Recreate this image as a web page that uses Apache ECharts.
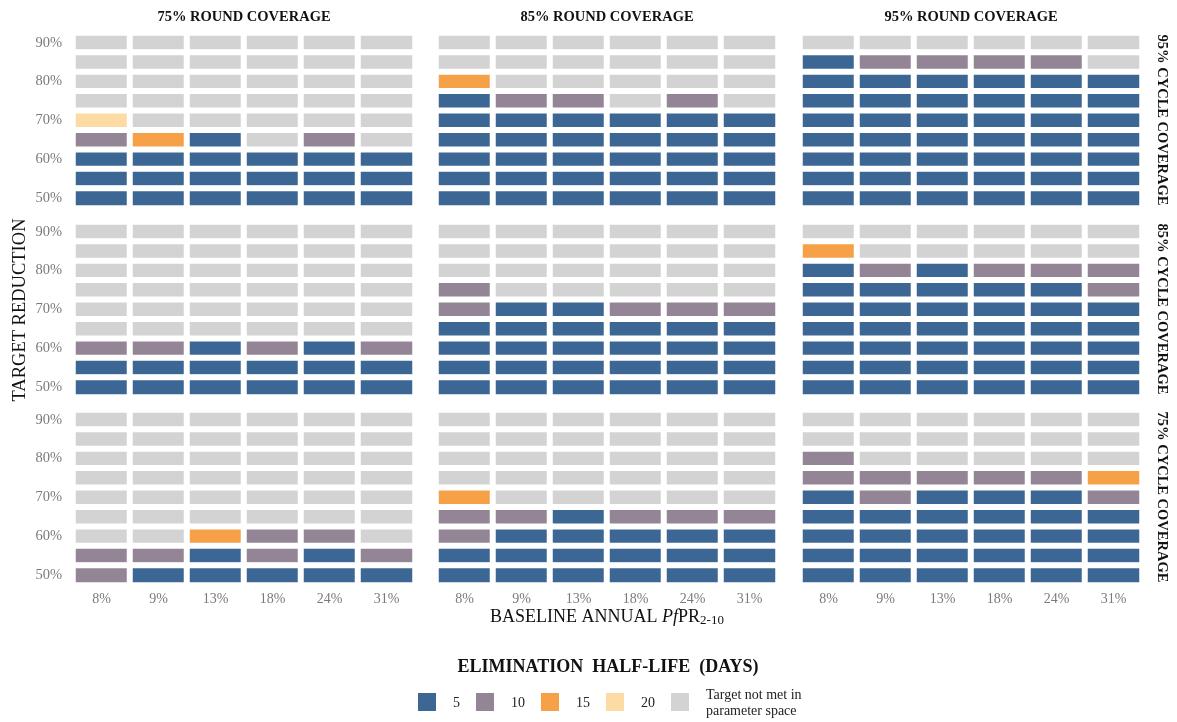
<!DOCTYPE html>
<html><head><meta charset="utf-8">
<script src="https://cdn.jsdelivr.net/npm/echarts@6/dist/echarts.min.js"></script>
<style>html,body{margin:0;padding:0;background:#fff}#c{width:1177px;height:722px}</style>
</head><body><div id="c"></div>
<script>
const rateLabels = ['8%','9%','13%','18%','24%','31%'];
const targetLabels = ['50%','55%','60%','65%','70%','75%','80%','85%','90%'];
const roundCoverage = ['75% ROUND COVERAGE','85% ROUND COVERAGE','95% ROUND COVERAGE'];
const cycleCoverage = ['95% CYCLE COVERAGE','85% CYCLE COVERAGE','75% CYCLE COVERAGE'];
const halfLives = [5, 10, 15, 20];
const notMetLabel = 'Target not met in\nparameter space';
// rows listed from 90% (top) down to 50% (bottom); 0 = target not met
const c95r75 = [[0,0,0,0,0,0],[0,0,0,0,0,0],[0,0,0,0,0,0],[0,0,0,0,0,0],[20,0,0,0,0,0],[10,15,5,0,10,0],[5,5,5,5,5,5],[5,5,5,5,5,5],[5,5,5,5,5,5]];
const c95r85 = [[0,0,0,0,0,0],[0,0,0,0,0,0],[15,0,0,0,0,0],[5,10,10,0,10,0],[5,5,5,5,5,5],[5,5,5,5,5,5],[5,5,5,5,5,5],[5,5,5,5,5,5],[5,5,5,5,5,5]];
const c95r95 = [[0,0,0,0,0,0],[5,10,10,10,10,0],[5,5,5,5,5,5],[5,5,5,5,5,5],[5,5,5,5,5,5],[5,5,5,5,5,5],[5,5,5,5,5,5],[5,5,5,5,5,5],[5,5,5,5,5,5]];
const c85r75 = [[0,0,0,0,0,0],[0,0,0,0,0,0],[0,0,0,0,0,0],[0,0,0,0,0,0],[0,0,0,0,0,0],[0,0,0,0,0,0],[10,10,5,10,5,10],[5,5,5,5,5,5],[5,5,5,5,5,5]];
const c85r85 = [[0,0,0,0,0,0],[0,0,0,0,0,0],[0,0,0,0,0,0],[10,0,0,0,0,0],[10,5,5,10,10,10],[5,5,5,5,5,5],[5,5,5,5,5,5],[5,5,5,5,5,5],[5,5,5,5,5,5]];
const c85r95 = [[0,0,0,0,0,0],[15,0,0,0,0,0],[5,10,5,10,10,10],[5,5,5,5,5,10],[5,5,5,5,5,5],[5,5,5,5,5,5],[5,5,5,5,5,5],[5,5,5,5,5,5],[5,5,5,5,5,5]];
const c75r75 = [[0,0,0,0,0,0],[0,0,0,0,0,0],[0,0,0,0,0,0],[0,0,0,0,0,0],[0,0,0,0,0,0],[0,0,0,0,0,0],[0,0,15,10,10,0],[10,10,5,10,5,10],[10,5,5,5,5,5]];
const c75r85 = [[0,0,0,0,0,0],[0,0,0,0,0,0],[0,0,0,0,0,0],[0,0,0,0,0,0],[15,0,0,0,0,0],[10,10,5,10,10,10],[10,5,5,5,5,5],[5,5,5,5,5,5],[5,5,5,5,5,5]];
const c75r95 = [[0,0,0,0,0,0],[0,0,0,0,0,0],[10,0,0,0,0,0],[10,10,10,10,10,15],[5,10,5,5,5,10],[5,5,5,5,5,5],[5,5,5,5,5,5],[5,5,5,5,5,5],[5,5,5,5,5,5]];

const panels = [[c95r75,c95r85,c95r95],[c85r75,c85r85,c85r95],[c75r75,c75r85,c75r95]];
const colors = {0:'#d3d3d3',5:'#3c6795',10:'#938595',15:'#f6a147',20:'#fcdba4'};
const FONT = '"Liberation Serif","DejaVu Serif",serif';

const gridLefts = [73, 436, 800];
const gridTops = [33, 222, 410];
const grids = [], xAxes = [], yAxes = [], series = [];
let gi = 0;
for (let r = 0; r < 3; r++) {
  for (let c = 0; c < 3; c++) {
    grids.push({left: gridLefts[c], top: gridTops[r], width: 342, height: 175, containLabel: false});
    xAxes.push({type:'category', gridIndex: gi, data: rateLabels,
      axisLine:{show:false}, axisTick:{show:false}, splitLine:{show:false},
      axisLabel:{show: r === 2, color:'#7a7a7a', fontFamily: FONT, fontSize: 14, margin: 7}});
    yAxes.push({type:'category', gridIndex: gi, data: targetLabels,
      axisLine:{show:false}, axisTick:{show:false}, splitLine:{show:false},
      axisLabel:{show: c === 0, interval: 1, color:'#7a7a7a', fontFamily: FONT, fontSize: 14.5, margin: 11}});
    const rows = panels[r][c];
    const data = [];
    rows.forEach((row, i) => {
      const yi = targetLabels.length - 1 - i;
      row.forEach((v, xi) => data.push([xi, yi, v]));
    });
    series.push({type:'heatmap', xAxisIndex: gi, yAxisIndex: gi, data: data,
      itemStyle:{borderColor:'#fff', borderWidth: 6},
      emphasis:{disabled:true}, silent: true});
    gi++;
  }
}

const graphics = [];
roundCoverage.forEach((t, c) => {
  graphics.push({type:'text', x: gridLefts[c] + 171, y: 17,
    style:{text: t, fill:'#111', font: 'bold 14.5px ' + FONT, textAlign:'center', textVerticalAlign:'middle'}});
});
cycleCoverage.forEach((t, r) => {
  graphics.push({type:'text', x: 1162, y: gridTops[r] + 87, rotation: -Math.PI/2,
    style:{text: t, fill:'#111', font: 'bold 14.5px ' + FONT, textAlign:'center', textVerticalAlign:'middle'}});
});
graphics.push({type:'text', x: 20, y: 310, rotation: Math.PI/2,
  style:{text:'TARGET REDUCTION', fill:'#111', font:'18.5px ' + FONT, textAlign:'center', textVerticalAlign:'middle'}});
graphics.push({type:'text', x: 607, y: 617,
  style:{text:'BASELINE ANNUAL {i|Pf}PR{s|2-10}', fill:'#111', font:'18px ' + FONT, textAlign:'center', textVerticalAlign:'middle',
    rich:{i:{fontStyle:'italic', fontSize:18, fontFamily: FONT, fill:'#111'}, s:{fontSize:13, fontFamily: FONT, padding:[8,0,0,0], fill:'#111'}}}});
graphics.push({type:'text', x: 608, y: 667,
  style:{text:'ELIMINATION  HALF-LIFE  (DAYS)', fill:'#111', font:'bold 18px ' + FONT, textAlign:'center', textVerticalAlign:'middle'}});

// legend (drawn as graphics)
const legendKeys = halfLives.concat([0]);
const legendX = [418, 476, 541, 606, 671];
legendKeys.forEach((k, i) => {
  graphics.push({type:'rect', shape:{x: legendX[i], y: 693, width: 18, height: 18}, style:{fill: colors[k]}});
  graphics.push({type:'text', x: legendX[i] + 35, y: 703,
    style:{text: k === 0 ? notMetLabel : String(k), fill:'#222', font:'14px ' + FONT,
      textAlign: 'left', textVerticalAlign:'middle', lineHeight: 16}});
});

const pieces = halfLives.map(h => ({value: h, label: String(h), color: colors[h]}));
pieces.push({value: 0, label: notMetLabel, color: colors[0]});

const chart = echarts.init(document.getElementById('c'));
chart.setOption({
  animation: false,
  backgroundColor: '#fff',
  grid: grids, xAxis: xAxes, yAxis: yAxes, series: series,
  visualMap: {type:'piecewise', show: false, pieces: pieces, seriesIndex: series.map((s,i)=>i)},
  graphic: graphics
});
</script></body></html>
